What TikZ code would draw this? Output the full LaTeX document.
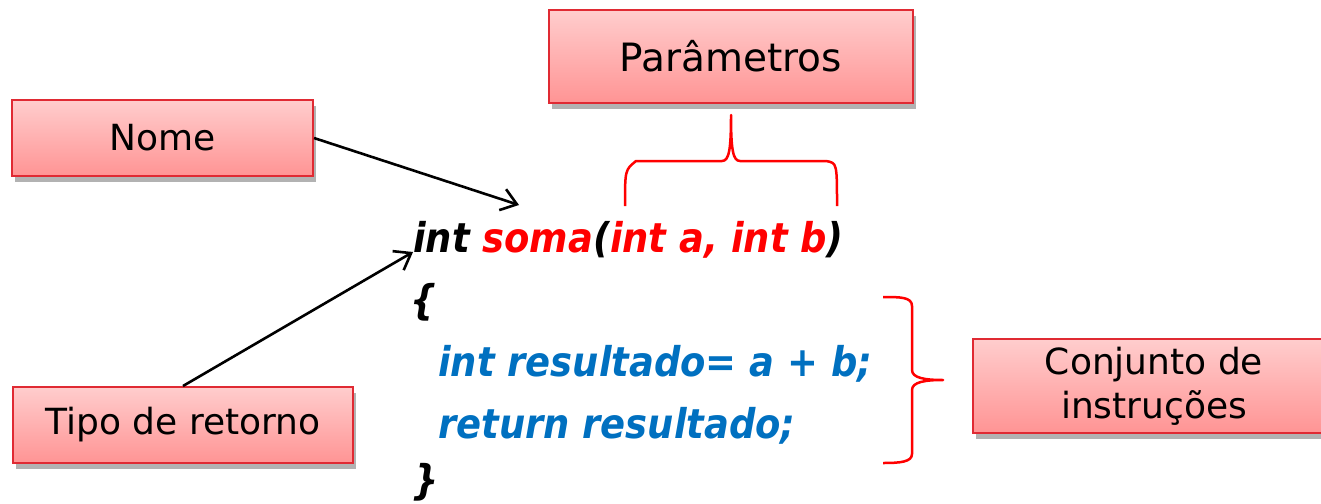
\documentclass[tikz,border=0pt]{standalone}
\usepackage{fontspec}
\setmainfont{DejaVu Sans}
\newfontfamily\codefont{DejaVu Sans Condensed Bold Oblique}
\usetikzlibrary{arrows.meta,shadows}

\definecolor{boxtop}{HTML}{FFCDCD}
\definecolor{boxbottom}{HTML}{FF9494}
\definecolor{boxborder}{HTML}{E02A33}
\definecolor{codeblue}{HTML}{0070C0}
\definecolor{codered}{HTML}{FF0000}

\begin{document}
\begin{tikzpicture}[x=1pt, y=-1pt,
    labelbox/.style={draw=boxborder, line width=2pt, top color=boxtop, bottom color=boxbottom,
      drop shadow={shadow xshift=3pt, shadow yshift=-6pt, fill=black, opacity=0.3},
      inner sep=0pt, align=center, font=\fontsize{36}{44}\selectfont},
    code/.style={anchor=base west, inner sep=0pt, font=\codefont\fontsize{41}{48}\selectfont},
    pointer/.style={draw=black, line width=2.6pt, -{Straight Barb[length=15pt, width=22pt]}},
    bracket/.style={draw=codered, line width=2.5pt, line join=round}]
    \useasboundingbox (0,0) rectangle (1321,503);

    % Label boxes
    \node[labelbox, minimum width=364pt, minimum height=93pt, font=\fontsize{39}{44}\selectfont] (param) at (731,56.5) {Parâmetros};
    \node[labelbox, minimum width=301pt, minimum height=76pt] (name) at (162.5,138) {Nome};
    \node[labelbox, minimum width=340pt, minimum height=76pt] (type) at (183,425) {Tipo de retorno};
    \node[labelbox, minimum width=362pt, minimum height=94pt] (body) at (1154,386) {Conjunto de\\instruções};

    % Code lines
    \node[code] (head) at (413,252) {int \textcolor{codered}{soma}(\textcolor{codered}{int a, int b})};
    \node[code] (open) at (410,314) {\{};
    \node[code, text=codeblue] (sum) at (438,376) {int resultado= a + b;};
    \node[code, text=codeblue] (ret) at (438,438) {return resultado;};
    \node[code] (close) at (412,494) {\}};

    % Braces
    \draw[bracket] (625,206) .. controls (625,170) .. (636,161) -- (722,161)
        .. controls (729,161) and (731,150) .. (731,115)
        .. controls (731,150) and (733,161) .. (740,161) -- (826,161)
        .. controls (837,163) .. (837,206);
    \draw[bracket] (883,297) .. controls (900,297) and (912,297) .. (912,306) -- (912,370)
        .. controls (912,378) and (925,380) .. (943,380)
        .. controls (925,380) and (912,382) .. (912,390) -- (912,454)
        .. controls (912,462) and (900,463) .. (883,463);

    % Arrows
    \coordinate (nametip) at (519,205);
    \coordinate (typetip) at (413,252);
    \draw[pointer] (name.east) -- (nametip);
    \draw[pointer] (type.north) -- (typetip);
\end{tikzpicture}
\end{document}
